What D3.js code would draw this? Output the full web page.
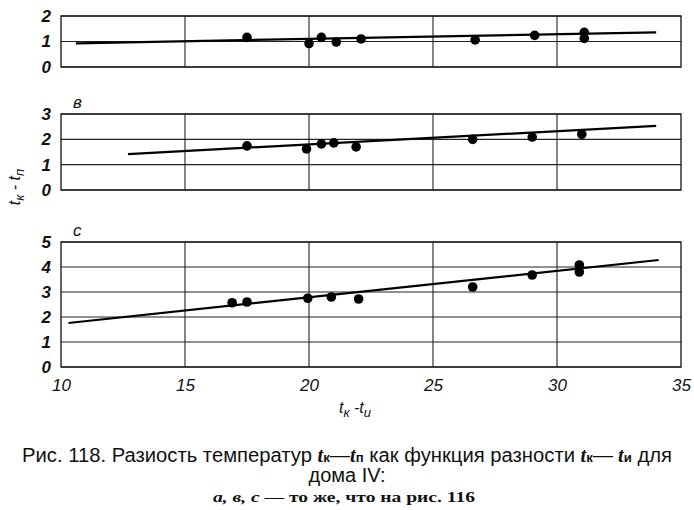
<!DOCTYPE html>
<html><head><meta charset="utf-8">
<script src="https://cdn.jsdelivr.net/npm/d3@7"></script>
<style>body{margin:0;background:#fff}svg{display:block}</style>
</head><body>
<script>
// ---- data ----
const xTicks = [10, 15, 20, 25, 30, 35];
const xGrid = [15, 20, 25, 30];
// panel a
const aX = [17.5, 20.0, 20.5, 21.1, 22.1, 26.7, 29.1, 31.1, 31.1];
const aY = [1.16, 0.92, 1.16, 0.98, 1.1, 1.06, 1.24, 1.36, 1.12];
const aLineX = [10.6, 34.0];
const aLineY = [0.93, 1.36];
const aTicks = [0, 1, 2];
// panel b
const bX = [17.5, 19.9, 20.5, 21.0, 21.9, 26.6, 29.0, 31.0];
const bY = [1.74, 1.62, 1.82, 1.86, 1.7, 2.0, 2.09, 2.2];
const bLineX = [12.7, 34.0];
const bLineY = [1.42, 2.53];
const bTicks = [0, 1, 2, 3];
// panel c
const cX = [16.9, 17.5, 19.95, 20.9, 22.0, 26.6, 29.0, 30.9, 30.9];
const cY = [2.57, 2.6, 2.75, 2.8, 2.72, 3.2, 3.68, 4.08, 3.8];
const cLineX = [10.3, 34.1];
const cLineY = [1.76, 4.28];
const cTicks = [0, 1, 2, 3, 4, 5];

const W = 694, H = 510;
const svg = d3.select("body").append("svg").attr("width", W).attr("height", H);

const x = d3.scaleLinear().domain([10, 35]).range([61, 681]);
const tickFont = "Liberation Sans Narrow, Liberation Sans, Arial, sans-serif";

const panels = [
  {xs: aX, ys: aY, lx: aLineX, ly: aLineY, ticks: aTicks, top: 16, bottom: 67, label: ""},
  {xs: bX, ys: bY, lx: bLineX, ly: bLineY, ticks: bTicks, top: 114, bottom: 190, label: "в"},
  {xs: cX, ys: cY, lx: cLineX, ly: cLineY, ticks: cTicks, top: 242, bottom: 367, label: "с"}
];

panels.forEach(p => {
  const ymax = p.ticks[p.ticks.length - 1];
  const y = d3.scaleLinear().domain([0, ymax]).range([p.bottom, p.top]);
  const g = svg.append("g");
  g.selectAll("line.h").data(p.ticks).join("line")
    .attr("x1", x(10)).attr("x2", x(35))
    .attr("y1", d => y(d)).attr("y2", d => y(d))
    .attr("stroke", "#222").attr("stroke-width", 1.1);
  g.selectAll("line.v").data(xGrid).join("line")
    .attr("x1", d => x(d)).attr("x2", d => x(d))
    .attr("y1", y(0)).attr("y2", y(ymax))
    .attr("stroke", "#222").attr("stroke-width", 1.1);
  g.append("rect").attr("x", x(10)).attr("y", y(ymax))
    .attr("width", x(35) - x(10)).attr("height", y(0) - y(ymax))
    .attr("fill", "none").attr("stroke", "#111").attr("stroke-width", 1.3);
  const ax = d3.axisLeft(y).tickValues(p.ticks).tickSize(0).tickPadding(10).tickFormat(d3.format("d"));
  const ag = g.append("g").attr("transform", `translate(${x(10)},0)`).call(ax);
  ag.select(".domain").remove();
  ag.selectAll("text").attr("font-family", tickFont)
    .attr("font-style", "italic").attr("font-weight", "bold").attr("font-size", 17).attr("fill", "#111");
  g.append("path").datum(d3.zip(p.lx, p.ly))
    .attr("d", d3.line().x(d => x(d[0])).y(d => y(d[1])))
    .attr("stroke", "#000").attr("stroke-width", 2.2).attr("fill", "none");
  g.selectAll("circle").data(d3.zip(p.xs, p.ys)).join("circle")
    .attr("cx", d => x(d[0])).attr("cy", d => y(d[1])).attr("r", 4.8)
    .attr("fill", "#000");
  if (p.label) {
    g.append("text").attr("x", x(10) + 12).attr("y", y(ymax) - 6)
      .attr("font-family", tickFont).attr("font-style", "italic")
      .attr("font-size", 17).attr("fill", "#111").text(p.label);
  }
});

const xa = d3.axisBottom(x).tickValues(xTicks).tickSize(0).tickPadding(9).tickFormat(d3.format("d"));
const xg = svg.append("g").attr("transform", "translate(0,370)").call(xa);
xg.select(".domain").remove();
xg.selectAll("text").attr("font-family", tickFont)
  .attr("font-style", "italic").attr("font-size", 17).attr("fill", "#111");

const xt = svg.append("text").attr("x", 355).attr("y", 413).attr("text-anchor", "middle")
  .attr("font-family", "Liberation Sans, Arial, sans-serif").attr("font-style", "italic")
  .attr("font-size", 16).attr("fill", "#111");
xt.append("tspan").text("t");
xt.append("tspan").attr("dy", 4).attr("font-size", 13).text("к");
xt.append("tspan").attr("dy", -4).text(" -t");
xt.append("tspan").attr("dy", 4).attr("font-size", 13).text("u");

const yt = svg.append("text").attr("transform", "translate(20,187) rotate(-90)").attr("text-anchor", "middle")
  .attr("font-family", "Liberation Sans, Arial, sans-serif").attr("font-style", "italic")
  .attr("font-size", 16).attr("fill", "#111");
yt.append("tspan").text("t");
yt.append("tspan").attr("dy", 4).attr("font-size", 13).text("к");
yt.append("tspan").attr("dy", -4).text(" - t");
yt.append("tspan").attr("dy", 4).attr("font-size", 13).text("п");

const cap = svg.append("g").attr("font-family", "Liberation Sans Narrow, Liberation Sans, sans-serif").attr("fill", "#111");
const l1 = cap.append("text").attr("x", 22).attr("y", 462).attr("font-size", 20)
  .attr("textLength", 650).attr("lengthAdjust", "spacingAndGlyphs");
l1.append("tspan").text("Рис. 118. Разиость температур ");
l1.append("tspan").attr("font-family", "Liberation Serif, serif").attr("font-style", "italic").attr("font-weight", "bold").text("t");
l1.append("tspan").attr("font-size", 13).attr("font-weight", "bold").text("к");
l1.append("tspan").text("—");
l1.append("tspan").attr("font-family", "Liberation Serif, serif").attr("font-style", "italic").attr("font-weight", "bold").text("t");
l1.append("tspan").attr("font-size", 13).attr("font-weight", "bold").text("п");
l1.append("tspan").text(" как функция разности ");
l1.append("tspan").attr("font-family", "Liberation Serif, serif").attr("font-style", "italic").attr("font-weight", "bold").text("t");
l1.append("tspan").attr("font-size", 13).attr("font-weight", "bold").text("к");
l1.append("tspan").text("—");
l1.append("tspan").attr("font-family", "Liberation Serif, serif").attr("font-style", "italic").attr("font-weight", "bold").text(" t");
l1.append("tspan").attr("font-size", 13).attr("font-weight", "bold").text("и");
l1.append("tspan").text(" для");
cap.append("text").attr("x", 347).attr("y", 482).attr("text-anchor", "middle").attr("font-size", 20)
  .text("дома IV:");
const l3 = cap.append("text").attr("x", 213).attr("y", 502)
  .attr("font-family", "Liberation Serif, serif")
  .attr("font-size", 14).attr("font-weight", "bold")
  .attr("textLength", 262).attr("lengthAdjust", "spacingAndGlyphs");
l3.append("tspan").attr("font-style", "italic").text("а, в, с");
l3.append("tspan").text(" — то же, что на рис. 116");
</script>
</body></html>
